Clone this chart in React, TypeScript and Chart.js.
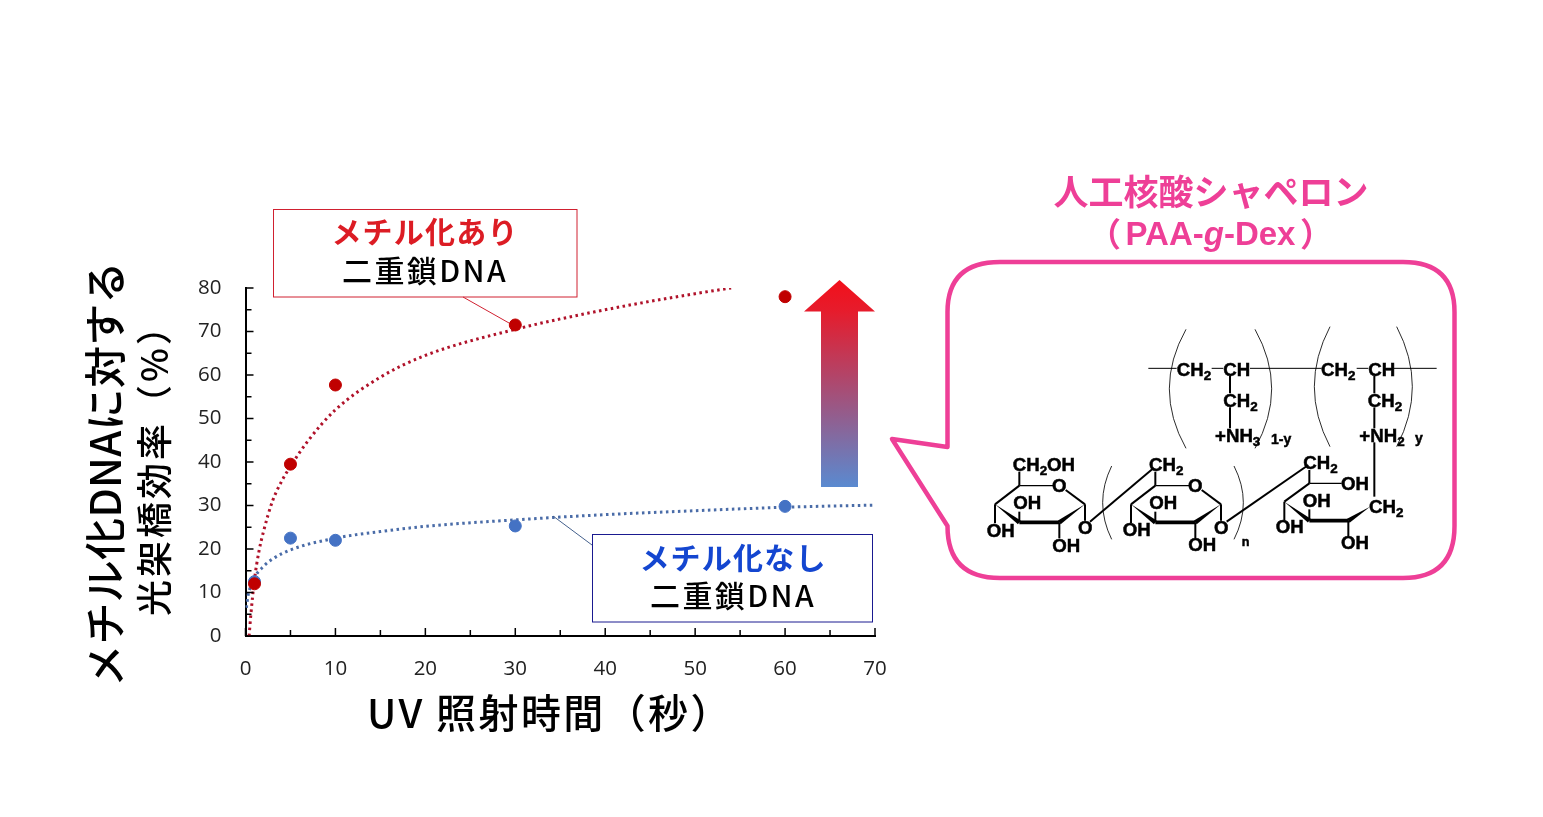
import React, { useEffect, useRef } from "react";
import { Chart, registerables } from "chart.js";

Chart.register(...registerables);

// ---- data ----
const timeMeasured = [1, 5, 10, 30, 60];
const methylated = [12, 39.5, 57.7, 71.5, 78];
const unmethylated = [12.5, 22.5, 22, 25.3, 29.8];

const trendRedX = [0.4, 0.6, 1, 1.5, 2, 3, 4, 5, 7, 10, 15, 20, 30, 40, 50, 54];
const trendRedY = [0, 5, 13, 19.5, 24, 31, 35.5, 39, 45, 52, 59.5, 64.5, 70.5, 75, 78.7, 80];
const trendBlueX = [0.1, 0.3, 0.6, 1, 2, 3, 5, 10, 15, 20, 30, 40, 50, 60, 70];
const trendBlueY = [6.5, 9.5, 11.5, 13.5, 16, 17.7, 19.8, 22.5, 24, 25.2, 26.7, 27.9, 28.8, 29.6, 30.1];

const xTitle = "UV 照射時間（秒）";
const yTitleLines = ["メチル化DNAに対する", "光架橋効率（%）"];
const redLabel = ["メチル化あり", "二重鎖DNA"];
const blueLabel = ["メチル化なし", "二重鎖DNA"];
const chaperoneTitle = "人工核酸シャペロン";

const pair = (xs: number[], ys: number[]) => xs.map((x, i) => ({ x, y: ys[i] }));

const CJK = "'Noto Sans CJK JP'";
const PINK = "#EE3F97";

function drawTicks(chart: any) {
  const { ctx, scales } = chart;
  const { x, y } = scales;
  ctx.save();
  ctx.strokeStyle = "#000";
  ctx.lineWidth = 1.5;
  ctx.beginPath();
  for (const t of x.ticks) {
    const px = x.getPixelForValue(t.value);
    const len = t.value % 10 === 0 ? 8 : 6;
    ctx.moveTo(px, y.bottom);
    ctx.lineTo(px, y.bottom - len);
  }
  for (const t of y.ticks) {
    const py = y.getPixelForValue(t.value);
    const len = t.value % 10 === 0 ? 8 : 6;
    ctx.moveTo(x.left, py);
    ctx.lineTo(x.left + len, py);
  }
  ctx.stroke();
  ctx.restore();
}

function centered(ctx: any, text: string, x: number, y: number, font: string, color: string, spacing = 0) {
  ctx.font = font;
  ctx.fillStyle = color;
  ctx.textAlign = "center";
  ctx.textBaseline = "middle";
  ctx.letterSpacing = `${spacing}px`;
  ctx.fillText(text, x, y);
  ctx.letterSpacing = "0px";
}

function drawTitles(ctx: any) {
  ctx.save();
  centered(ctx, xTitle, 550, 713, `500 40px ${CJK}`, "#000", 2.4);
  ctx.translate(105, 474);
  ctx.rotate(-Math.PI / 2);
  centered(ctx, yTitleLines[0], 0, 0, `500 42px ${CJK}`, "#000", 0.3);
  ctx.rotate(Math.PI / 2);
  ctx.translate(49, -13);
  ctx.rotate(-Math.PI / 2);
  centered(ctx, yTitleLines[1], 0, 0, `500 36px ${CJK}`, "#000", 3);
  ctx.restore();
}

function drawLabels(ctx: any) {
  ctx.save();
  ctx.fillStyle = "#fff";
  ctx.fillRect(273.5, 209.5, 303.5, 87.5);
  ctx.fillRect(592.5, 534.5, 280, 87.5);
  ctx.lineWidth = 1;
  ctx.strokeStyle = "#D02030";
  ctx.strokeRect(273.5, 209.5, 303.5, 87.5);
  ctx.beginPath();
  ctx.moveTo(463, 297);
  ctx.lineTo(509, 323);
  ctx.stroke();
  ctx.strokeStyle = "#1A1A90";
  ctx.strokeRect(592.5, 534.5, 280, 87.5);
  ctx.strokeStyle = "#44608C";
  ctx.beginPath();
  ctx.moveTo(553, 516);
  ctx.lineTo(592, 545);
  ctx.stroke();
  centered(ctx, redLabel[0], 425, 232, `700 30px ${CJK}`, "#DC1C24", 1.2);
  centered(ctx, redLabel[1], 425, 271, `500 30px ${CJK}`, "#000", 2.4);
  centered(ctx, blueLabel[0], 733, 558, `700 30px ${CJK}`, "#1446D0", 1.2);
  centered(ctx, blueLabel[1], 733, 596, `500 30px ${CJK}`, "#000", 2.4);
  ctx.restore();
}

function drawArrow(ctx: any) {
  ctx.save();
  const g = ctx.createLinearGradient(0, 280, 0, 487);
  g.addColorStop(0, "#F20F1A");
  g.addColorStop(0.15, "#E61C2C");
  g.addColorStop(1, "#5A8AD0");
  ctx.fillStyle = g;
  ctx.beginPath();
  ctx.moveTo(839.5, 280);
  ctx.lineTo(875, 311.5);
  ctx.lineTo(858, 311.5);
  ctx.lineTo(858, 487);
  ctx.lineTo(821, 487);
  ctx.lineTo(821, 311.5);
  ctx.lineTo(804, 311.5);
  ctx.closePath();
  ctx.fill();
  ctx.restore();
}

function drawCallout(ctx: any) {
  ctx.save();
  centered(ctx, chaperoneTitle, 1211, 192, `700 35px ${CJK}`, PINK);
  // second title line, with an italic g
  const parts: [string, string][] = [
    ["PAA-", "700 33px 'Liberation Sans'"],
    ["g", "italic 700 33px 'Liberation Sans'"],
    ["-Dex", "700 33px 'Liberation Sans'"],
  ];
  let w = 0;
  for (const [t, f] of parts) {
    ctx.font = f;
    w += ctx.measureText(t).width;
  }
  let cx = 1210.5 - w / 2;
  ctx.fillStyle = PINK;
  ctx.textAlign = "left";
  ctx.textBaseline = "middle";
  for (const [t, f] of parts) {
    ctx.font = f;
    ctx.fillText(t, cx, 236);
    cx += ctx.measureText(t).width;
  }
  ctx.font = `700 33px ${CJK}`;
  ctx.textAlign = "right";
  ctx.fillText("（", 1121, 233);
  ctx.textAlign = "left";
  ctx.fillText("）", 1300, 233);
  ctx.strokeStyle = PINK;
  ctx.lineWidth = 4.5;
  ctx.lineJoin = "round";
  ctx.beginPath();
  ctx.moveTo(947.5, 447);
  ctx.lineTo(947.5, 312);
  ctx.quadraticCurveTo(947.5, 262, 1000, 262);
  ctx.lineTo(1403, 262);
  ctx.quadraticCurveTo(1454.5, 262, 1454.5, 312);
  ctx.lineTo(1454.5, 526);
  ctx.quadraticCurveTo(1454.5, 578, 1403, 578);
  ctx.lineTo(1000, 578);
  ctx.quadraticCurveTo(947.5, 578, 947.5, 526);
  ctx.lineTo(892, 439);
  ctx.closePath();
  ctx.stroke();
  ctx.restore();
}

function chem(ctx: any, x: number, y: number, s: string, size = 56) {
  // "_" marks the next character as a subscript
  ctx.textAlign = "left";
  ctx.textBaseline = "alphabetic";
  ctx.fillStyle = "#000";
  ctx.strokeStyle = "#000";
  ctx.lineWidth = 1.5;
  let cx = x;
  for (let i = 0; i < s.length; i++) {
    let c = s[i];
    let sub = false;
    if (c === "_") {
      i++;
      c = s[i];
      sub = true;
    }
    ctx.font = `bold ${sub ? size * 0.72 : size}px 'Liberation Sans'`;
    ctx.fillText(c, cx, sub ? y + 12 : y);
    ctx.strokeText(c, cx, sub ? y + 12 : y);
    cx += ctx.measureText(c).width;
  }
}

function seg(ctx: any, pts: number[], width = 6) {
  ctx.lineWidth = width;
  ctx.beginPath();
  ctx.moveTo(pts[0], pts[1]);
  ctx.lineTo(pts[2], pts[3]);
  ctx.stroke();
}

function wedge(ctx: any, x1: number, y1: number, x2: number, y2: number, w = 14) {
  const dx = x2 - x1;
  const dy = y2 - y1;
  const l = Math.hypot(dx, dy);
  const nx = (-dy / l) * (w / 2);
  const ny = (dx / l) * (w / 2);
  ctx.fillStyle = "#000";
  ctx.beginPath();
  ctx.moveTo(x1, y1);
  ctx.lineTo(x2 + nx, y2 + ny);
  ctx.lineTo(x2 - nx, y2 - ny);
  ctx.closePath();
  ctx.fill();
}

function paren(ctx: any, x1: number, y1: number, xm: number, y2: number) {
  ctx.lineWidth = 2.5;
  ctx.beginPath();
  ctx.moveTo(x1, y1);
  ctx.quadraticCurveTo(2 * xm - x1, (y1 + y2) / 2, x1, y2);
  ctx.stroke();
}

function ring(ctx: any, dx: number) {
  // glucose ring drawn relative to the first unit
  seg(ctx, [238 + dx, 527, 340 + dx, 527], 4);
  seg(ctx, [377 + dx, 540, 435 + dx, 583]);
  seg(ctx, [238 + dx, 527, 165 + dx, 583]);
  wedge(ctx, 435 + dx, 583, 358 + dx, 637);
  seg(ctx, [358 + dx, 637, 238 + dx, 637], 11);
  wedge(ctx, 165 + dx, 583, 238 + dx, 637);
  seg(ctx, [165 + dx, 583, 165 + dx, 640]);
  seg(ctx, [238 + dx, 637, 238 + dx, 605]);
  seg(ctx, [358 + dx, 637, 358 + dx, 685]);
  seg(ctx, [435 + dx, 583, 435 + dx, 632]);
}

function drawChemistry(ctx: any) {
  ctx.save();
  ctx.translate(940, 310);
  ctx.scale(1 / 3, 1 / 3);
  ctx.lineCap = "butt";
  ctx.strokeStyle = "#000";
  // backbone
  seg(ctx, [625, 175, 710, 175], 3);
  seg(ctx, [815, 175, 850, 175], 3);
  seg(ctx, [930, 175, 1145, 175], 3);
  seg(ctx, [1250, 175, 1285, 175], 3);
  seg(ctx, [1362, 175, 1490, 175], 3);
  chem(ctx, 710, 197, "CH_2");
  chem(ctx, 850, 197, "CH");
  chem(ctx, 850, 290, "CH_2");
  chem(ctx, 825, 397, "+NH_3");
  chem(ctx, 993, 402, "1-y", 42);
  chem(ctx, 1143, 197, "CH_2");
  chem(ctx, 1285, 197, "CH");
  chem(ctx, 1283, 290, "CH_2");
  chem(ctx, 1258, 397, "+NH_2");
  chem(ctx, 1425, 400, "y", 42);
  seg(ctx, [870, 197, 870, 250]);
  seg(ctx, [870, 292, 870, 355]);
  seg(ctx, [1303, 197, 1303, 250]);
  seg(ctx, [1303, 292, 1303, 355]);
  seg(ctx, [1303, 397, 1303, 560]);
  paren(ctx, 738, 58, 688, 415);
  paren(ctx, 945, 58, 995, 415);
  paren(ctx, 1170, 50, 1123, 410);
  paren(ctx, 1370, 50, 1417, 410);
  paren(ctx, 515, 468, 488, 688);
  paren(ctx, 882, 468, 910, 688);

  // sugar 1
  ring(ctx, 0);
  seg(ctx, [238, 485, 238, 527]);
  chem(ctx, 218, 482, "CH_2OH");
  chem(ctx, 336, 547, "O");
  chem(ctx, 220, 597, "OH");
  chem(ctx, 140, 680, "OH");
  chem(ctx, 337, 725, "OH");
  chem(ctx, 414, 672, "O");
  seg(ctx, [450, 635, 640, 475]);

  // sugar 2
  ring(ctx, 408);
  seg(ctx, [646, 485, 646, 527]);
  chem(ctx, 627, 482, "CH_2");
  chem(ctx, 744, 545, "O");
  chem(ctx, 628, 597, "OH");
  chem(ctx, 548, 677, "OH");
  chem(ctx, 745, 722, "OH");
  chem(ctx, 822, 672, "O");
  chem(ctx, 905, 708, "n", 38);
  seg(ctx, [860, 635, 1105, 465]);

  // sugar 3
  seg(ctx, [1108, 480, 1108, 520]);
  seg(ctx, [1108, 520, 1205, 520], 4);
  seg(ctx, [1108, 520, 1033, 575]);
  wedge(ctx, 1033, 575, 1108, 632);
  seg(ctx, [1108, 632, 1225, 632], 11);
  wedge(ctx, 1290, 590, 1225, 632);
  seg(ctx, [1225, 632, 1225, 680]);
  seg(ctx, [1108, 632, 1108, 598]);
  seg(ctx, [1033, 575, 1033, 632]);
  chem(ctx, 1090, 478, "CH_2");
  chem(ctx, 1203, 540, "OH");
  chem(ctx, 1088, 592, "OH");
  chem(ctx, 1007, 670, "OH");
  chem(ctx, 1287, 608, "CH_2");
  chem(ctx, 1203, 717, "OH");
  ctx.restore();
}

const artwork = {
  id: "artwork",
  afterDraw(chart: any) {
    const { ctx } = chart;
    drawTicks(chart);
    drawLabels(ctx);
    drawArrow(ctx);
    drawTitles(ctx);
    drawCallout(ctx);
    drawChemistry(ctx);
  },
};

export default function App() {
  const ref = useRef<HTMLCanvasElement | null>(null);
  useEffect(() => {
    const chart = new Chart(ref.current as HTMLCanvasElement, {
      type: "scatter",
      data: {
        datasets: [
          {
            label: "メチル化あり",
            data: pair(timeMeasured, methylated),
            backgroundColor: "#C00000",
            borderColor: "#C00000",
            pointRadius: 6,
            order: 0,
          },
          {
            label: "メチル化なし",
            data: pair(timeMeasured, unmethylated),
            backgroundColor: "#4472C4",
            borderColor: "#4472C4",
            pointRadius: 6,
            order: 1,
          },
          {
            label: "メチル化あり 近似",
            data: pair(trendRedX, trendRedY),
            showLine: true,
            borderColor: "#B0122A",
            borderWidth: 3,
            borderDash: [2.5, 3.5],
            pointRadius: 0,
            cubicInterpolationMode: "monotone",
            order: 2,
          },
          {
            label: "メチル化なし 近似",
            data: pair(trendBlueX, trendBlueY),
            showLine: true,
            borderColor: "#4A6CA8",
            borderWidth: 3,
            borderDash: [2.5, 3.5],
            pointRadius: 0,
            cubicInterpolationMode: "monotone",
            order: 3,
          },
        ],
      } as any,
      options: {
        responsive: false,
        animation: false,
        devicePixelRatio: 1,
        layout: { padding: { top: 288, right: 668, left: 0, bottom: 0 } },
        plugins: { legend: { display: false }, tooltip: { enabled: false } },
        scales: {
          x: {
            type: "linear",
            min: 0,
            max: 70,
            grid: { display: false },
            border: { display: true, color: "#000", width: 2 },
            afterFit(s: any) {
              s.height = 181;
            },
            ticks: {
              stepSize: 5,
              autoSkip: false,
              maxRotation: 0,
              padding: 13,
              color: "#222",
              font: { family: "'Open Sans'", size: 20.5 },
              callback: (v: any) => (v % 10 === 0 ? String(v) : ""),
            },
          },
          y: {
            type: "linear",
            min: 0,
            max: 80,
            grid: { display: false },
            border: { display: true, color: "#000", width: 2 },
            afterFit(s: any) {
              s.width = 245.5;
            },
            ticks: {
              stepSize: 5,
              autoSkip: false,
              padding: 16,
              color: "#222",
              font: { family: "'Open Sans'", size: 20.5 },
              callback: (v: any) => (v % 10 === 0 ? String(v) : ""),
            },
          },
        },
      } as any,
      plugins: [artwork],
    });
    return () => chart.destroy();
  }, []);
  return (
    <canvas
      ref={ref}
      width={1543}
      height={817}
      style={{ position: "absolute", left: 0, top: 0, display: "block", background: "#fff" }}
    />
  );
}
